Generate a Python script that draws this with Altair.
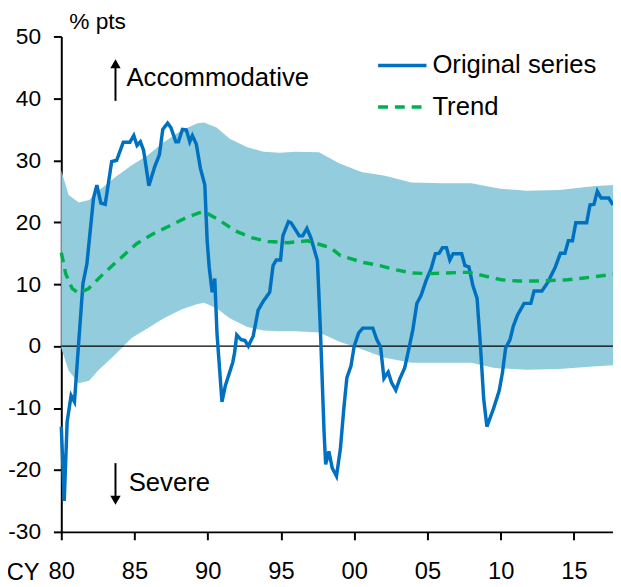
import altair as alt
import pandas as pd

FONT = "Liberation Sans, Arial, sans-serif"

# Original series (year, % pts)
orig_year = [1980.0, 1980.2, 1980.4, 1980.67, 1980.9, 1981.2, 1981.48, 1981.75, 1982.2, 1982.43,
             1982.7, 1983.0, 1983.44, 1983.78, 1984.23, 1984.68, 1984.95, 1985.17, 1985.4, 1985.62,
             1985.98, 1986.37, 1986.7, 1986.93, 1987.26, 1987.48, 1987.82, 1988.0, 1988.27, 1988.54,
             1988.77, 1988.95, 1989.22, 1989.5, 1989.8, 1989.96, 1990.1, 1990.3, 1990.48, 1990.63,
             1990.97, 1991.2, 1991.7, 1991.83, 1991.98, 1992.27, 1992.54, 1992.77, 1993.1, 1993.44,
             1993.78, 1994.23, 1994.46, 1994.68, 1994.97, 1995.13, 1995.51, 1995.69, 1996.25, 1996.48,
             1996.77, 1997.04, 1997.49, 1997.7, 1997.94, 1998.05, 1998.27, 1998.5, 1998.79, 1999.06,
             1999.29, 1999.5, 1999.78, 2000.0, 2000.3, 2000.59, 2001.27, 2001.54, 2001.8, 2002.03,
             2002.32, 2002.55, 2002.84, 2003.11, 2003.45, 2003.67, 2004.0, 2004.28, 2004.57, 2004.91,
             2005.25, 2005.54, 2005.8, 2006.03, 2006.3, 2006.53, 2006.75, 2007.34, 2007.56, 2007.83,
             2008.1, 2008.39, 2008.62, 2008.84, 2009.06, 2009.51, 2009.9, 2010.12, 2010.34, 2010.64,
             2010.86, 2011.15, 2011.6, 2012.06, 2012.28, 2012.82, 2013.22, 2013.72, 2014.08, 2014.39,
             2014.62, 2014.9, 2015.13, 2015.87, 2016.1, 2016.37, 2016.6, 2016.86, 2017.38, 2017.67]
orig_value = [-13.0, -25.0, -12.2, -8.0, -9.0, 1.0, 10.1, 13.3, 23.9, 26.0,
              23.1, 22.9, 29.8, 30.0, 32.9, 32.9, 34.0, 32.4, 33.0, 31.6,
              25.9, 28.9, 30.9, 35.0, 36.0, 35.3, 33.0, 33.0, 35.0, 34.9,
              33.0, 34.0, 32.6, 28.7, 26.0, 17.0, 12.7, 8.7, 10.9, 2.1,
              -9.0, -6.4, -2.7, -1.1, 1.8, 1.05, 0.9, 0.0, 1.6, 5.8,
              7.2, 8.7, 13.0, 13.9, 13.9, 17.8, 20.1, 19.9, 17.8, 17.8,
              19.0, 17.5, 13.8, 2.1, -13.8, -19.1, -17.0, -19.7, -21.0, -16.5,
              -10.1, -5.1, -3.2, 0.0, 2.1, 2.9, 2.9, 1.05, -0.1, -5.2,
              -4.2, -5.9, -7.1, -5.3, -3.5, -1.1, 2.6, 6.9, 8.2, 10.6,
              12.5, 14.9, 15.0, 15.9, 15.9, 13.9, 14.9, 14.9, 13.0, 12.8,
              9.8, 7.7, 0.0, -8.5, -13.0, -10.1, -7.2, -4.3, -0.3, 1.05,
              3.2, 5.0, 6.9, 6.9, 8.9, 8.9, 10.3, 12.7, 15.0, 15.0,
              17.0, 17.0, 19.9, 19.9, 22.8, 22.9, 25.0, 23.9, 23.9, 22.8]

# Trend
trend_year = [1980.0, 1980.3, 1980.74, 1981.2, 1981.87, 1982.88, 1984.0, 1985.12, 1986.25, 1987.38,
              1988.5, 1989.4, 1989.74, 1990.75, 1991.87, 1992.99, 1994.12, 1995.47, 1996.82, 1997.94,
              1998.39, 1999.06, 1999.5, 2000.63, 2001.76, 2002.88, 2004.0, 2005.13, 2006.26, 2007.38,
              2007.83, 2008.95, 2010.07, 2011.2, 2012.33, 2013.45, 2014.57, 2015.7, 2017.05, 2017.67]
trend_value = [15.1, 11.7, 9.3, 8.5, 9.3, 11.7, 14.1, 16.5, 18.1, 19.4,
               20.7, 21.5, 21.7, 20.4, 18.6, 17.5, 16.9, 16.7, 17.0, 16.2,
               15.9, 14.6, 14.3, 13.5, 13.0, 12.3, 11.8, 11.7, 11.8, 11.9,
               11.9, 11.3, 10.7, 10.5, 10.5, 10.6, 10.7, 11.0, 11.4, 11.6]

# Shaded band
band_year = [1980.0, 1980.5, 1981.2, 1981.9, 1982.5, 1983.7, 1984.8, 1985.9, 1987.0, 1988.2,
             1989.3, 1989.75, 1990.6, 1991.5, 1992.7, 1993.8, 1994.9, 1996.0, 1997.6, 1999.0,
             2000.5, 2002.1, 2003.9, 2006.1, 2008.0, 2009.5, 2010.0, 2011.8, 2014.0, 2016.3, 2017.67]
band_upper = [28.4, 24.4, 23.2, 23.6, 25.0, 27.3, 29.2, 30.8, 32.9, 34.8,
              36.0, 36.1, 35.3, 33.5, 32.1, 31.4, 31.2, 31.4, 31.3, 29.5,
              28.1, 27.5, 26.4, 26.3, 26.3, 25.6, 25.4, 25.1, 25.2, 25.8, 26.0]
band_lower = [-0.3, -4.0, -6.0, -5.6, -4.0, -1.3, 1.3, 2.9, 4.5, 5.9,
              6.8, 7.0, 6.1, 4.5, 3.1, 2.5, 2.4, 2.4, 2.2, 0.7,
              -0.5, -1.9, -2.7, -2.7, -2.7, -3.5, -3.6, -3.8, -3.7, -3.3, -3.1]

series_names = ["Original series", "Trend"]
series_colors = ["#0070C0", "#00B050"]
x_ticks = [1980, 1985, 1990, 1995, 2000, 2005, 2010, 2015]
y_ticks = [-30, -20, -10, 0, 10, 20, 30, 40, 50]

W, H = 559, 502

lines_df = pd.concat([
    pd.DataFrame({"year": orig_year, "value": orig_value, "series": series_names[0]}),
    pd.DataFrame({"year": trend_year, "value": trend_value, "series": series_names[1]}),
])
band_df = pd.DataFrame({"year": band_year, "upper": band_upper, "lower": band_lower})

xscale = alt.Scale(domain=[1980, 2017.67], nice=False, zero=False)
yscale = alt.Scale(domain=[-30, 50], nice=False, zero=False)

xaxis = alt.Axis(values=x_ticks, title=None, grid=False,
                 labelExpr="substring(toString(datum.value), 2)",
                 labelFont=FONT, labelFontSize=24, labelColor="black",
                 labelPadding=20, tickSize=8, tickColor="black", tickWidth=2,
                 domainColor="black", domainWidth=2, labelFlush=False, labelOverlap=False)
yaxis = alt.Axis(values=y_ticks, title=None, grid=False,
                 labelExpr="toString(datum.value)",
                 labelFont=FONT, labelFontSize=23, labelColor="black",
                 labelPadding=13, tickSize=8, tickColor="black", tickWidth=2,
                 domainColor="black", domainWidth=2, labelFlush=False, labelOverlap=False)

band = alt.Chart(band_df).mark_area(color="#93CDDD", opacity=1).encode(
    x=alt.X("year:Q", scale=xscale, axis=xaxis),
    y=alt.Y("lower:Q", scale=yscale, axis=yaxis),
    y2="upper:Q",
)

zero = alt.Chart(pd.DataFrame({"v": [0]})).mark_rule(color="black", strokeWidth=1.2).encode(
    y=alt.Y("v:Q", scale=yscale, axis=yaxis)
)

lines = alt.Chart(lines_df).mark_line(strokeWidth=3.5, strokeCap="butt").encode(
    x=alt.X("year:Q", scale=xscale, axis=xaxis),
    y=alt.Y("value:Q", scale=yscale, axis=yaxis),
    color=alt.Color("series:N", scale=alt.Scale(domain=series_names, range=series_colors),
                    legend=alt.Legend(orient="none", legendX=319, legendY=3, title=None,
                                      symbolType="stroke", symbolSize=2400, symbolStrokeWidth=3.5,
                                      labelFont=FONT, labelFontSize=26, labelColor="black",
                                      labelLimit=400, labelOffset=4, rowPadding=2, padding=0)),
    strokeDash=alt.StrokeDash("series:N", scale=alt.Scale(domain=series_names, range=[[1, 0], [10, 7]]),
                              legend=None),
    order=alt.Order("series:N", sort="descending"),
)

# Annotations
arrow_df = pd.DataFrame({"x": [1983.7, 1983.7], "y1": [39.6, -18.9], "y2": [45.2, -24.2]})
arrows = alt.Chart(arrow_df).mark_rule(color="black", strokeWidth=2).encode(
    x=alt.X("x:Q", scale=xscale, axis=xaxis), y=alt.Y("y1:Q", scale=yscale, axis=yaxis), y2="y2:Q")

head_df = pd.DataFrame({"x": [1983.7, 1983.7], "y": [45.6, -24.9], "shape": ["triangle-up", "triangle-down"]})
heads = alt.Chart(head_df).mark_point(filled=True, color="black", opacity=1, size=110).encode(
    x=alt.X("x:Q", scale=xscale, axis=xaxis), y=alt.Y("y:Q", scale=yscale, axis=yaxis),
    shape=alt.Shape("shape:N", scale=None))

label_df = pd.DataFrame({"x": [1984.45, 1984.6], "y": [43.3, -22.2], "t": ["Accommodative", "Severe"]})
labels = alt.Chart(label_df).mark_text(align="left", baseline="middle", font=FONT, fontSize=26,
                                       color="black").encode(
    x=alt.X("x:Q", scale=xscale, axis=xaxis), y=alt.Y("y:Q", scale=yscale, axis=yaxis), text="t:N")

unit = alt.Chart(pd.DataFrame({"t": ["% pts"]})).mark_text(
    align="left", baseline="middle", font=FONT, fontSize=23, color="black").encode(
    x=alt.value(8), y=alt.value(-15), text="t:N")

cy = alt.Chart(pd.DataFrame({"t": ["CY"]})).mark_text(
    align="right", baseline="alphabetic", font=FONT, fontSize=24, color="black").encode(
    x=alt.value(-22), y=alt.value(H + 49), text="t:N")

chart = alt.layer(band, zero, lines, arrows, heads, labels, unit, cy).properties(
    width=W, height=H,
    autosize=alt.AutoSizeParams(type="none"),
    padding={"left": 54, "top": 25, "right": 0, "bottom": 50},
).configure_view(stroke=None)

chart.save("out.html", embed_options={"renderer": "svg", "actions": False})
